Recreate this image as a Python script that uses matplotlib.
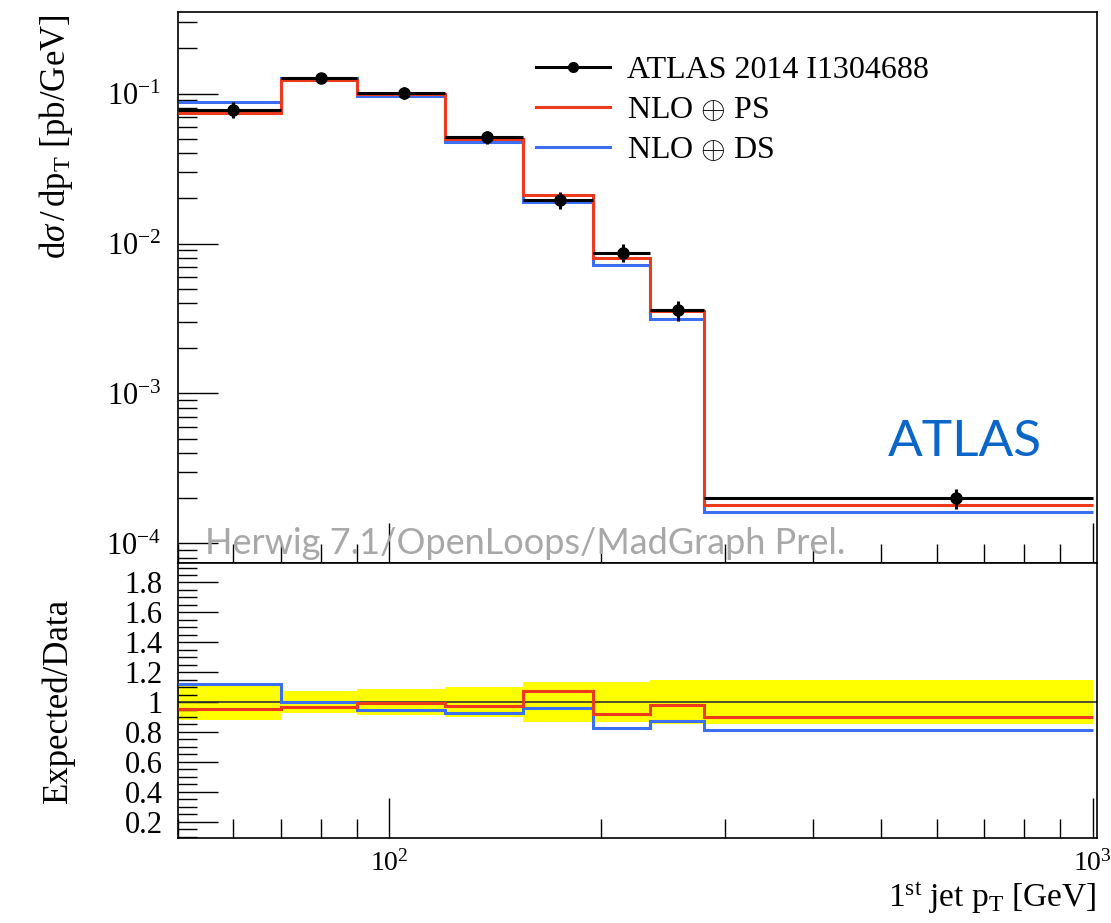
import matplotlib
matplotlib.use("Agg")
import matplotlib.pyplot as plt
import numpy as np
from matplotlib.ticker import LogLocator, NullFormatter, MultipleLocator, FixedLocator

plt.rcParams['font.family'] = ['Liberation Serif', 'DejaVu Serif']
plt.rcParams['mathtext.fontset'] = 'custom'
plt.rcParams['mathtext.rm'] = 'Liberation Serif'
plt.rcParams['mathtext.it'] = 'Liberation Serif:italic'
plt.rcParams['mathtext.bf'] = 'Liberation Serif:bold'

# bin edges (GeV) and values
edges = [50, 70, 90, 120, 155, 195, 235, 280, 1000]
data = [0.078, 0.128, 0.101, 0.051, 0.0196, 0.0087, 0.0036, 2.0e-4]
data_relerr = [0.12, 0.073, 0.087, 0.10, 0.133, 0.133, 0.15, 0.149]
nlo_ps = [0.0743, 0.1234, 0.1001, 0.0496, 0.0210, 0.0080, 0.00354, 1.80e-4]
nlo_ds = [0.0875, 0.128, 0.0958, 0.0473, 0.0188, 0.00721, 0.00314, 1.63e-4]

red = '#ee3a1c'
blue = '#3c6ef2'

edges = np.array(edges)
data = np.array(data)
err = data * np.array(data_relerr)
centers = 0.5 * (edges[:-1] + edges[1:])

fig = plt.figure(figsize=(11.11, 9.23), dpi=100)
ax = fig.add_axes([0.160, 0.390, 0.827, 0.597])
rx = fig.add_axes([0.160, 0.092, 0.827, 0.298], sharex=ax)

# main panel
ax.stairs(nlo_ps, edges, color=red, lw=2.2, baseline=None, zorder=3)
ax.stairs(nlo_ds, edges, color=blue, lw=2.2, baseline=None, zorder=2)
ax.errorbar(centers, data, yerr=err,
            xerr=[centers - edges[:-1], edges[1:] - centers],
            fmt='o', color='black', ms=8, lw=2.2, capsize=0, zorder=4)

ax.set_xscale('log')
ax.set_yscale('log')
ax.set_xlim(50, 1013)
ax.set_ylim(7.4e-5, 0.35)
ax.set_ylabel(r'$\mathrm{d}\sigma\,/\,\mathrm{dp}_\mathrm{T}$ [pb/GeV]', fontsize=25)
ax.yaxis.set_label_coords(-0.112, 0.995)
ax.yaxis.label.set_va('bottom')
ax.yaxis.label.set_ha('right')

leg_h = [
    plt.Line2D([], [], color='black', lw=2.2, marker='o', ms=7),
    plt.Line2D([], [], color=red, lw=2.2),
    plt.Line2D([], [], color=blue, lw=2.2),
]
ax.legend(leg_h, ['ATLAS 2014 I1304688', r'NLO $\oplus$ PS', r'NLO $\oplus$ DS'],
          loc='upper left', bbox_to_anchor=(0.359, 0.973), frameon=False,
          fontsize=23, handlelength=2.3, handletextpad=0.55, labelspacing=0.33)

ax.text(0.941, 0.22, 'ATLAS', transform=ax.transAxes, ha='right', va='center',
        color='#0a66c8', fontsize=37, family='Lato')
ax.text(0.03, 0.035, 'Herwig 7.1/OpenLoops/MadGraph Prel.', transform=ax.transAxes,
        ha='left', va='center', color='#a8a8a8', fontsize=26, family='Lato')

# ratio panel
ps_ratio = np.array(nlo_ps) / data
ds_ratio = np.array(nlo_ds) / data
rel = np.array(data_relerr)
rx.stairs(1 + rel, edges, baseline=1 - rel, fill=True, color='#ffff00', lw=0, zorder=1)
rx.axhline(1.0, color='#333333', lw=1.2, zorder=2)
rx.stairs(ps_ratio, edges, color=red, lw=2.2, baseline=None, zorder=4)
rx.stairs(ds_ratio, edges, color=blue, lw=2.2, baseline=None, zorder=3)
rx.set_ylim(0.09, 1.93)
rx.set_ylabel('Expected/Data', fontsize=25)
rx.yaxis.set_label_coords(-0.112, 0.5)
rx.set_xlabel(r'$1^{\mathrm{st}}$ jet $\mathrm{p}_\mathrm{T}$ [GeV]', fontsize=24, loc='right',
              labelpad=2)

rx.yaxis.set_major_locator(FixedLocator([0.2, 0.4, 0.6, 0.8, 1.0, 1.2, 1.4, 1.6, 1.8]))
rx.set_yticklabels(['0.2', '0.4', '0.6', '0.8', '1', '1.2', '1.4', '1.6', '1.8'])
rx.yaxis.set_minor_locator(MultipleLocator(0.05))

for a in (ax, rx):
    a.tick_params(which='both', direction='in', top=False, right=False, labelsize=22)
    a.tick_params(which='major', length=29, width=1.0)
    a.tick_params(which='minor', length=14, width=1.0)
    for s in a.spines.values():
        s.set_linewidth(1.2)

ax.tick_params(axis='x', labelbottom=False)
ax.tick_params(axis='y', which='major', pad=12)
rx.tick_params(axis='y', which='major', pad=11)
ax.xaxis.set_major_locator(LogLocator(base=10, numticks=10))
ax.xaxis.set_minor_locator(LogLocator(base=10, subs=np.arange(2, 10), numticks=20))
ax.xaxis.set_minor_formatter(NullFormatter())
ax.yaxis.set_minor_locator(LogLocator(base=10, subs=np.arange(2, 10), numticks=20))
ax.yaxis.set_minor_formatter(NullFormatter())
rx.xaxis.set_minor_formatter(NullFormatter())
rx.tick_params(axis='x', which='major', pad=9, labelsize=20)
for lab in rx.get_xticklabels():
    lab.set_horizontalalignment('center')

fig.savefig('out.png', dpi=100)
